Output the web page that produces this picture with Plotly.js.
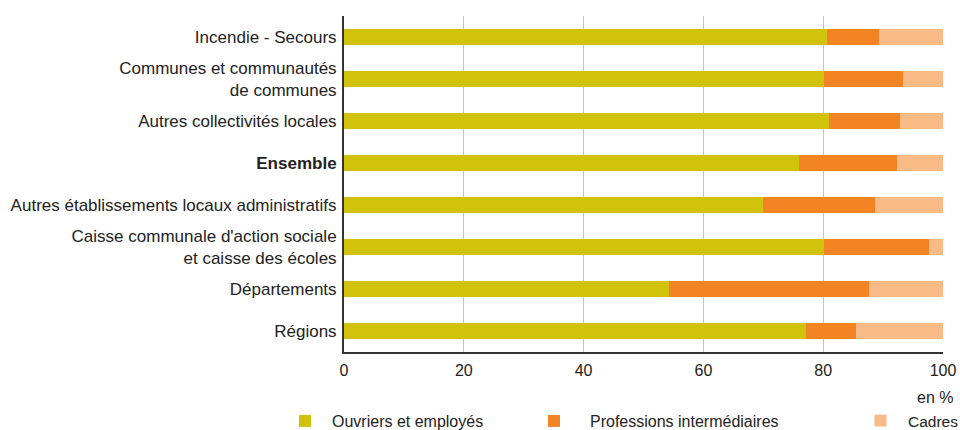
<!DOCTYPE html>
<html>
<head>
<meta charset="utf-8">
<script src="https://cdn.plot.ly/plotly-3.0.1.min.js"></script>
<style>html,body{margin:0;padding:0;background:#fff;}#chart{width:960px;height:430px;}</style>
</head>
<body>
<div id="chart"></div>
<script>
const categories = [
  "Incendie - Secours",
  "Communes et communautés<br>de communes",
  "Autres collectivités locales",
  "<b>Ensemble</b>",
  "Autres établissements locaux administratifs",
  "Caisse communale d'action sociale<br>et caisse des écoles",
  "Départements",
  "Régions"
];
const ouvriers = [80.7, 80.1, 80.9, 76.0, 70.0, 80.1, 54.3, 77.2];
const professions = [8.6, 13.3, 12.0, 16.3, 18.7, 17.5, 33.3, 8.3];
const cadres = [10.7, 6.6, 7.1, 7.7, 11.3, 2.4, 12.4, 14.5];
const seriesNames = ["Ouvriers et employés", "Professions intermédiaires", "Cadres"];
const xTicks = [0, 20, 40, 60, 80, 100];

const FONT = "'Liberation Sans', Arial, sans-serif";
const colors = ["#d1c20b", "#f38423", "#f9bb86"];
const vals = [ouvriers, professions, cadres];
const legends = ["legend", "legend2", "legend3"];

const traces = vals.map((v, i) => ({
  type: "bar",
  orientation: "h",
  x: v,
  y: categories,
  name: seriesNames[i],
  marker: {color: colors[i], line: {width: 0}},
  legend: legends[i],
  showlegend: true,
  hoverinfo: "x+name"
}));

const legBase = {
  orientation: "h",
  xref: "container",
  yref: "container",
  yanchor: "middle",
  y: 1 - 421 / 430,
  xanchor: "left",
  bgcolor: "rgba(0,0,0,0)",
  borderwidth: 0,
  font: {family: FONT, size: 16, color: "#222"}
};

const layout = {
  width: 960,
  height: 430,
  showlegend: true,
  margin: {l: 344, r: 17, t: 16, b: 78, autoexpand: false},
  paper_bgcolor: "#fff",
  plot_bgcolor: "#fff",
  barmode: "stack",
  bargap: 0.6,
  font: {family: FONT, color: "#222"},
  xaxis: {
    range: [0, 100],
    tickvals: xTicks,
    ticktext: xTicks.map(String),
    showgrid: true,
    gridcolor: "#c4c4c4",
    gridwidth: 1,
    zeroline: false,
    showline: true,
    linecolor: "#333",
    linewidth: 1.5,
    ticks: "",
    ticklabelstandoff: 3,
    tickfont: {family: FONT, size: 16, color: "#222"},
    fixedrange: true
  },
  yaxis: {
    type: "category",
    categoryorder: "array",
    categoryarray: categories,
    autorange: "reversed",
    showgrid: false,
    zeroline: false,
    showline: true,
    linecolor: "#333",
    linewidth: 2,
    ticks: "",
    ticklabelstandoff: 2,
    tickfont: {family: FONT, size: 17, color: "#222"},
    fixedrange: true
  },
  legend: Object.assign({}, legBase, {x: 278 / 960, itemwidth: 44}),
  legend2: Object.assign({}, legBase, {x: 518 / 960, itemwidth: 62}),
  legend3: Object.assign({}, legBase, {x: 853 / 960, itemwidth: 45, font: {family: FONT, size: 15.5, color: "#222"}}),
  annotations: [{
    xref: "paper", yref: "paper",
    x: 1, y: -0.134,
    xanchor: "right", yanchor: "middle",
    xshift: 12,
    text: "en %",
    showarrow: false,
    font: {family: FONT, size: 16, color: "#222"}
  }]
};

Plotly.newPlot("chart", traces, layout, {displayModeBar: false, staticPlot: true});
</script>
</body>
</html>
